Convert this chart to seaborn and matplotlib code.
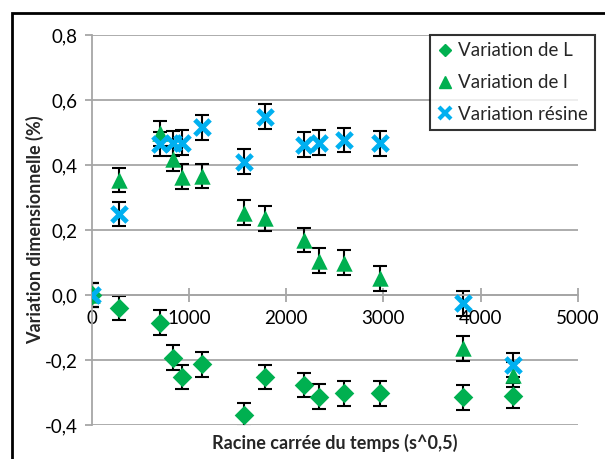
import numpy as np
import pandas as pd
import matplotlib
matplotlib.use("Agg")
import matplotlib.pyplot as plt
import seaborn as sns
from matplotlib.lines import Line2D
from matplotlib.patches import Rectangle
from matplotlib.ticker import FuncFormatter

# ---- data ----
x_time = [0, 280, 708, 838, 931, 1136, 1564, 1780, 2187, 2341, 2591, 2967, 3823, 4336]
var_L = [0.0, -0.04, -0.085, -0.193, -0.252, -0.213, -0.369, -0.252, -0.277, -0.313, -0.303, -0.303, -0.315, -0.31]
var_l = [0.0, 0.354, 0.498, 0.42, 0.364, 0.366, 0.253, 0.236, 0.169, 0.106, 0.100, 0.051, -0.164, -0.245]
var_res = [0.0, 0.249, 0.465, 0.467, 0.469, 0.516, 0.41, 0.549, 0.463, 0.469, 0.477, 0.467, -0.026, -0.215]
err = [0.038] * len(x_time)
series_names = ["Variation de L", "Variation de l", "Variation résine"]
x_ticks = [0, 1000, 2000, 3000, 4000, 5000]
y_ticks = [-0.4, -0.2, 0.0, 0.2, 0.4, 0.6, 0.8]

GREEN = "#00B050"
BLUE = "#00B0F0"

sns.set_style("white")
plt.rcParams["font.family"] = ["Lato", "DejaVu Sans"]

fig = plt.figure(figsize=(6.05, 4.59), dpi=100)
ax = fig.add_axes([91.5 / 605, 1 - 425 / 459, (578 - 91.5) / 605, (425 - 35) / 459])

# outer frame
fig.patches.append(Rectangle((12 / 605, -0.1), 1.2, 1 - 13 / 459 + 0.1,
                             transform=fig.transFigure, fill=False,
                             edgecolor="black", linewidth=2, zorder=0))

# gridlines
for yv in y_ticks:
    ax.axhline(yv, color="#A6A6A6", linewidth=1.3, zorder=0)

series = [var_L, var_l, var_res]
# error bars
for ys in series:
    ax.errorbar(x_time, ys, yerr=err, fmt="none", ecolor="black",
                elinewidth=1.5, capsize=5, capthick=1.5, zorder=2)

dfL = pd.DataFrame({"x": x_time, "y": var_L})
dfl = pd.DataFrame({"x": x_time, "y": var_l})
dfr = pd.DataFrame({"x": x_time, "y": var_res})
sns.scatterplot(data=dfL, x="x", y="y", marker="D", s=100, color=GREEN,
                edgecolor=GREEN, linewidth=0, ax=ax, zorder=3)
sns.scatterplot(data=dfl, x="x", y="y", marker="^", s=140, color=GREEN,
                edgecolor=GREEN, linewidth=0, ax=ax, zorder=3)
ax.scatter(dfr["x"], dfr["y"], marker="x", s=120, color=BLUE,
           linewidths=3.5, zorder=4)

ax.set_xlim(0, 5000)
ax.set_ylim(-0.4, 0.8)
ax.set_xticks(x_ticks)
ax.set_yticks(y_ticks)
ax.yaxis.set_major_formatter(FuncFormatter(lambda v, p: f"{v:.1f}".replace(".", ",")))
ax.xaxis.set_major_formatter(FuncFormatter(lambda v, p: f"{int(v)}"))

for s in ["top", "right"]:
    ax.spines[s].set_visible(False)
ax.spines["bottom"].set_position(("data", 0))
ax.spines["bottom"].set_color("#A6A6A6")
ax.spines["bottom"].set_linewidth(1.3)
ax.spines["left"].set_color("#A6A6A6")
ax.spines["left"].set_linewidth(1.3)
ax.tick_params(axis="x", direction="inout", length=10, width=1.3, color="#A6A6A6",
               labelsize=13.5, pad=6, bottom=True, labelcolor="black")
ax.tick_params(axis="y", direction="out", length=5, width=1.3, color="#A6A6A6",
               labelsize=13.5, pad=5, left=True, labelcolor="black")

ax.set_xlabel("Racine carrée du temps (s^0,5)", fontsize=13, fontweight="bold")
ax.xaxis.set_label_coords(0.5, -0.022)
ax.set_ylabel("Variation dimensionnelle (%)", fontsize=13, fontweight="bold")
ax.yaxis.set_label_coords(-0.097, 0.5)

handles = [
    Line2D([], [], marker="D", linestyle="none", color=GREEN, markersize=6),
    Line2D([], [], marker="^", linestyle="none", color=GREEN, markersize=8),
    Line2D([], [], marker="x", linestyle="none", color=BLUE, markersize=8, markeredgewidth=3),
]
leg = ax.legend(handles, series_names, loc="upper right",
                bbox_to_anchor=(595 / 605, 1 - 35 / 459), bbox_transform=fig.transFigure,
                fontsize=13.5, frameon=True, fancybox=False, edgecolor="black",
                handlelength=0.8, handletextpad=0.3, borderpad=0.4,
                labelspacing=0.78, borderaxespad=0)
leg.get_frame().set_linewidth(1.5)

fig.savefig("out.png", dpi=100)
